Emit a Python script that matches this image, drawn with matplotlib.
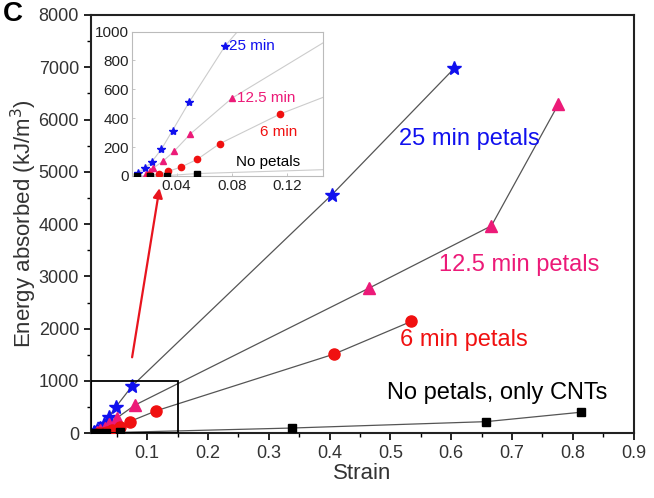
import matplotlib
matplotlib.use("Agg")
import matplotlib.pyplot as plt
from matplotlib.patches import Rectangle

plt.rcParams["font.family"] = ["Liberation Sans", "DejaVu Sans"]

# data (strain, energy absorbed in kJ/m^3)
strain_25 = [0.012, 0.017, 0.022, 0.029, 0.037, 0.049, 0.075, 0.404, 0.605]
energy_25 = [24, 54, 98, 186, 315, 511, 900, 4565, 6980]

strain_125 = [0.018, 0.021, 0.023, 0.030, 0.038, 0.050, 0.080, 0.465, 0.666, 0.776]
energy_125 = [15, 33, 54, 102, 170, 292, 539, 2777, 3967, 6290]

strain_6 = [0.020, 0.027, 0.034, 0.043, 0.055, 0.071, 0.115, 0.407, 0.534]
energy_6 = [5, 12, 33, 61, 116, 223, 430, 1513, 2138]

strain_cnt = [0.011, 0.021, 0.033, 0.055, 0.338, 0.657, 0.813]
energy_cnt = [0, 1, 3, 17, 100, 222, 402]

BLUE = "#1010ee"
PINK = "#ec1a78"
RED = "#f01010"
BLACK = "#000000"

series = [
    (strain_25, energy_25, "*", BLUE, 10, 6),
    (strain_125, energy_125, "^", PINK, 8, 4.5),
    (strain_6, energy_6, "o", RED, 8, 4.5),
    (strain_cnt, energy_cnt, "s", BLACK, 6, 4),
]

fig = plt.figure(figsize=(6.54, 4.98), dpi=100)
ax = fig.add_axes([0.139, 0.130, 0.830, 0.840])

for xs, ys, mk, col, ms, _ in series:
    ax.plot(xs, ys, color="#555555", lw=0.9, zorder=2)
    ax.plot(xs, ys, ls="none", marker=mk, color=col, ms=ms, mec=col, zorder=3)

ax.set_xlim(0.0075, 0.9)
ax.set_ylim(0, 8000)
ax.set_xticks([0.1, 0.2, 0.3, 0.4, 0.5, 0.6, 0.7, 0.8, 0.9])
ax.set_xticks([0.05, 0.15, 0.25, 0.35, 0.45, 0.55, 0.65, 0.75, 0.85], minor=True)
ax.set_yticks(range(0, 8001, 1000))
ax.set_yticks(range(500, 8000, 1000), minor=True)
ax.tick_params(which="major", direction="out", length=5, width=1.2,
               labelsize=13, labelcolor="#333333")
ax.tick_params(which="minor", direction="out", length=3, width=1.0)
for s in ax.spines.values():
    s.set_linewidth(1.5)
    s.set_color("#222222")

ax.set_xlabel("Strain", fontsize=16, color="#333333", labelpad=1)
ax.set_ylabel("Energy absorbed (kJ/m$^3$)", fontsize=16, color="#333333", labelpad=0)

ax.text(0.63, 5620, "25 min petals", color=BLUE, fontsize=17, ha="center", va="center")
ax.text(0.712, 3225, "12.5 min petals", color=PINK, fontsize=17, ha="center", va="center")
ax.text(0.62, 1786, "6 min petals", color=RED, fontsize=17, ha="center", va="center")
ax.text(0.676, 778, "No petals, only CNTs", color=BLACK, fontsize=17, ha="center", va="center")

# zoom box and arrow pointing to the inset
ax.add_patch(Rectangle((0.0075, 0), 0.15 - 0.0075, 1000, fill=False,
                       ec="black", lw=1.3, zorder=4))
ax.annotate("", xy=(0.121, 4740), xytext=(0.0745, 1400),
            arrowprops=dict(arrowstyle="-|>", color="#e8141e", lw=1.6,
                            mutation_scale=14))

fig.text(0.004, 0.972, "C", fontsize=20, fontweight="bold", va="center")

# inset
ins = fig.add_axes([0.2014, 0.6466, 0.292, 0.290])
for xs, ys, mk, col, _, ms in series:
    ins.plot(xs, ys, color="#cccccc", lw=0.8, zorder=2)
    ins.plot(xs, ys, ls="none", marker=mk, color=col, ms=ms, mec=col, zorder=3)
ins.set_xlim(0.0075, 0.1456)
ins.set_ylim(0, 1000)
ins.set_xticks([0.04, 0.08, 0.12])
ins.set_xticklabels(["0.04", "0.08", "0.12"])
ins.set_yticks(range(0, 1001, 200))
ins.tick_params(direction="in", length=2, width=0.6, color="#bbbbbb",
                labelsize=11, labelcolor="#222222", pad=2)
for s in ins.spines.values():
    s.set_linewidth(0.8)
    s.set_color("#bbbbbb")

ins.text(0.0775, 903, "25 min", color=BLUE, fontsize=11, va="center")
ins.text(0.0835, 539, "12.5 min", color=PINK, fontsize=11, va="center")
ins.text(0.1135, 308, "6 min", color=RED, fontsize=11, ha="center", va="center")
ins.text(0.106, 98, "No petals", color=BLACK, fontsize=11, ha="center", va="center")

fig.savefig("out.png", dpi=100)
